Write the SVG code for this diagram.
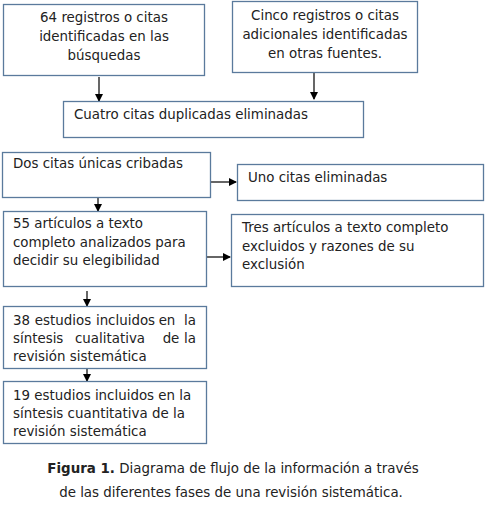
<svg xmlns="http://www.w3.org/2000/svg" width="486" height="511" viewBox="0 0 486 511">
<defs>
<marker id="ah" markerWidth="8" markerHeight="8" refX="7" refY="4" orient="auto" markerUnits="userSpaceOnUse">
<path d="M0,0 L8,4 L0,8 Z" fill="#000"/>
</marker>
<style>
.box{fill:#fff;stroke:#5A7A9C;stroke-width:1.3}
.t{font-family:"DejaVu Sans",Verdana,sans-serif;font-size:13.4px;fill:#222}
.c{text-anchor:middle}
.e{text-anchor:end}
.cn{stroke:#000;stroke-width:1.2;fill:none;marker-end:url(#ah)}
</style>
</defs>
<rect width="486" height="511" fill="#fff"/>
<g id="connectors">
<line class="cn" x1="99" y1="77" x2="99" y2="101"/>
<line class="cn" x1="314" y1="73" x2="314" y2="99"/>
<line class="cn" x1="98" y1="197" x2="98" y2="211"/>
<line class="cn" x1="211" y1="182" x2="236" y2="182"/>
<line class="cn" x1="206" y1="257" x2="230" y2="257"/>
<line class="cn" x1="87" y1="291" x2="87" y2="306"/>
<line class="cn" x1="87" y1="368" x2="87" y2="381"/>
</g>
<g id="n1">
<rect class="box" x="3.5" y="4.5" width="201" height="71"/>
<text class="t c" x="104" y="22">64 registros o citas</text>
<text class="t c" x="104" y="41">identificadas en las</text>
<text class="t c" x="104" y="60">búsquedas</text>
</g>
<g id="n2">
<rect class="box" x="232.5" y="1.5" width="185" height="71"/>
<text class="t c" x="325" y="20">Cinco registros o citas</text>
<text class="t c" x="325" y="39">adicionales identificadas</text>
<text class="t c" x="325" y="58">en otras fuentes.</text>
</g>
<g id="n3">
<rect class="box" x="63.5" y="101.5" width="300" height="36"/>
<text class="t" x="74" y="119">Cuatro citas duplicadas eliminadas</text>
</g>
<g id="n4">
<rect class="box" x="2.5" y="152.5" width="208" height="45"/>
<text class="t" x="13" y="168">Dos citas únicas cribadas</text>
</g>
<g id="n5">
<rect class="box" x="237.5" y="164.5" width="246" height="36"/>
<text class="t" x="248" y="182">Uno citas eliminadas</text>
</g>
<g id="n6">
<rect class="box" x="3.5" y="211.5" width="203" height="75"/>
<text class="t" x="13" y="228">55 artículos a texto</text>
<text class="t" x="13" y="247">completo analizados para</text>
<text class="t" x="13" y="265">decidir su elegibilidad</text>
</g>
<g id="n7">
<rect class="box" x="231.5" y="214.5" width="252" height="72"/>
<text class="t" x="242" y="232">Tres artículos a texto completo</text>
<text class="t" x="242" y="251">excluidos y razones de su</text>
<text class="t" x="242" y="269">exclusión</text>
</g>
<g id="n8">
<rect class="box" x="3.5" y="306.5" width="203" height="62"/>
<text class="t" x="13" y="325">38</text>
<text class="t c" x="63" y="325">estudios</text>
<text class="t c" x="125.5" y="325">incluidos</text>
<text class="t c" x="167" y="325">en</text>
<text class="t e" x="196" y="325">la</text>
<text class="t" x="13" y="343">síntesis</text>
<text class="t c" x="110" y="343">cualitativa</text>
<text class="t c" x="171" y="343">de</text>
<text class="t e" x="196" y="343">la</text>
<text class="t" x="13" y="361">revisión sistemática</text>
</g>
<g id="n9">
<rect class="box" x="3.5" y="381.5" width="203" height="62"/>
<text class="t" x="13" y="400">19 estudios incluidos en la</text>
<text class="t" x="13" y="418">síntesis cuantitativa de la</text>
<text class="t" x="13" y="436">revisión sistemática</text>
</g>
<g id="caption">
<text class="t c" x="233" y="473"><tspan font-weight="bold">Figura 1.</tspan> Diagrama de flujo de la información a través</text>
<text class="t c" x="231" y="497">de las diferentes fases de una revisión sistemática.</text>
</g>
</svg>
